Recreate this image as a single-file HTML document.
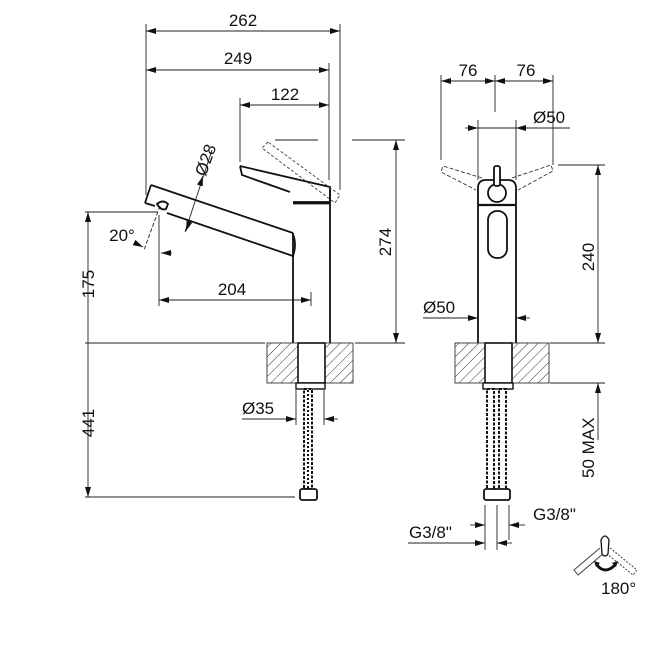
<!DOCTYPE html>
<html><head><meta charset="utf-8"><style>
html,body{margin:0;padding:0;background:#fff}
svg{display:block}
text{font-family:"Liberation Sans",Arial,sans-serif;font-size:17px;fill:#111}
</style></head><body>
<svg width="651" height="651" viewBox="0 0 651 651" xmlns="http://www.w3.org/2000/svg">
<defs>
<marker id="a" viewBox="0 0 10 6" refX="10" refY="3" markerWidth="10" markerHeight="6" orient="auto-start-reverse" markerUnits="userSpaceOnUse"><path d="M0,0L10,3L0,6z" fill="#111"/></marker>
<pattern id="h" width="7" height="7" patternUnits="userSpaceOnUse" patternTransform="rotate(45)"><line x1="0" y1="0" x2="0" y2="7" stroke="#333" stroke-width="1"/></pattern>
</defs>
<g stroke="#222" stroke-width="0.9" fill="none">
<line x1="146" y1="24" x2="146" y2="195"/>
<line x1="340" y1="24" x2="340" y2="190"/>
<line x1="329" y1="63" x2="329" y2="180"/>
<line x1="240" y1="98" x2="240" y2="162"/>
<line x1="85" y1="212" x2="158" y2="212"/>
<line x1="159" y1="215" x2="159" y2="306"/>
<line x1="311" y1="292" x2="311" y2="306"/>
<line x1="85" y1="343" x2="265" y2="343"/>
<line x1="355" y1="343" x2="405" y2="343"/>
<line x1="352" y1="140" x2="405" y2="140"/>
<line x1="275" y1="140" x2="318" y2="140"/>
<line x1="85" y1="497" x2="295" y2="497"/>
<line x1="296" y1="390" x2="296" y2="425"/>
<line x1="324" y1="390" x2="324" y2="425"/>
<line x1="146" y1="31" x2="340" y2="31" marker-start="url(#a)" marker-end="url(#a)"/>
<line x1="146" y1="70" x2="329" y2="70" marker-start="url(#a)" marker-end="url(#a)"/>
<line x1="240" y1="105" x2="329" y2="105" marker-start="url(#a)" marker-end="url(#a)"/>
<line x1="159" y1="300" x2="311" y2="300" marker-start="url(#a)" marker-end="url(#a)"/>
<line x1="396" y1="140" x2="396" y2="343" marker-start="url(#a)" marker-end="url(#a)"/>
<line x1="88" y1="212" x2="88" y2="343" marker-start="url(#a)"/>
<line x1="88" y1="343" x2="88" y2="497" marker-end="url(#a)"/>
<line x1="242" y1="419" x2="296" y2="419" marker-end="url(#a)"/>
<line x1="338" y1="419" x2="324" y2="419" marker-end="url(#a)"/>
<line x1="212" y1="150" x2="185" y2="232"/>
<line x1="200" y1="185" x2="203" y2="176" marker-end="url(#a)"/>
<line x1="190" y1="220" x2="186" y2="231" marker-end="url(#a)"/>
<line x1="160" y1="206" x2="144" y2="250" stroke-dasharray="4,2"/>
<line x1="135" y1="243" x2="143" y2="247" marker-end="url(#a)"/>
<line x1="172" y1="253" x2="161" y2="253" marker-end="url(#a)"/>
</g>
<g stroke="#111" stroke-width="1.8" fill="none">
<path d="M151,185 L293,233 M145,203 L151,185 M145,203 L155,206 M167,213 L293,256 Q297,245 293,234"/>
<path d="M157,204 q6,-5 11,0 l-2,5 q-5,2 -9,-5z"/>
<path d="M293,233 L293,343 M330,188 L330,343"/>
<path d="M240,166 L330,187 L330,202 L293,202 M240,166 L242,175 L290,192"/>
<line x1="293" y1="203" x2="330" y2="203" stroke-width="2.8"/>
</g>
<path d="M268,142 L262,148 L335,203 L340,195z" stroke="#444" stroke-width="0.9" fill="none" stroke-dasharray="3,2"/>
<rect x="267" y="343" width="86" height="40" fill="url(#h)" stroke="#333" stroke-width="0.9"/>
<rect x="298" y="343" width="27" height="40" fill="#fff" stroke="#111" stroke-width="1.6"/>
<rect x="296" y="383" width="29" height="6" fill="#fff" stroke="#111" stroke-width="1.4"/>
<rect x="304" y="389" width="8" height="100" fill="#fff" stroke="#111" stroke-width="2" stroke-dasharray="3,1.5"/>
<line x1="308" y1="390" x2="308" y2="489" stroke="#111" stroke-width="2" stroke-dasharray="2,2"/>
<rect x="300" y="489" width="17" height="11" rx="2" fill="#fff" stroke="#111" stroke-width="1.8"/>
<g stroke="#222" stroke-width="0.9" fill="none">
<line x1="441" y1="75" x2="441" y2="160"/>
<line x1="495" y1="75" x2="495" y2="112"/>
<line x1="553" y1="75" x2="553" y2="165"/>
<line x1="478" y1="120" x2="478" y2="180"/>
<line x1="516" y1="120" x2="516" y2="180"/>
<line x1="441" y1="81" x2="495" y2="81" marker-start="url(#a)" marker-end="url(#a)"/>
<line x1="495" y1="81" x2="553" y2="81" marker-start="url(#a)" marker-end="url(#a)"/>
<line x1="465" y1="128" x2="478" y2="128" marker-end="url(#a)"/>
<line x1="478" y1="128" x2="516" y2="128"/>
<line x1="570" y1="128" x2="516" y2="128" marker-end="url(#a)"/>
<line x1="558" y1="165" x2="605" y2="165"/>
<line x1="550" y1="343" x2="605" y2="343"/>
<line x1="550" y1="383" x2="605" y2="383"/>
<line x1="598" y1="165" x2="598" y2="343" marker-start="url(#a)" marker-end="url(#a)"/>
<line x1="598" y1="440" x2="598" y2="383" marker-end="url(#a)"/>
<line x1="423" y1="318" x2="478" y2="318" marker-end="url(#a)"/>
<line x1="530" y1="318" x2="516" y2="318" marker-end="url(#a)"/>
<line x1="485" y1="505" x2="485" y2="550"/>
<line x1="497" y1="505" x2="497" y2="550"/>
<line x1="509" y1="505" x2="509" y2="540"/>
<line x1="470" y1="525" x2="485" y2="525" marker-end="url(#a)"/>
<line x1="525" y1="525" x2="509" y2="525" marker-end="url(#a)"/>
<line x1="408" y1="543" x2="485" y2="543" marker-end="url(#a)"/>
<line x1="512" y1="543" x2="497" y2="543" marker-end="url(#a)"/>
</g>
<g stroke="#333" stroke-width="0.9" fill="none" stroke-dasharray="4,2">
<path d="M482,178 L443,166 L441,172 L476,190"/>
<path d="M512,178 L551,165 L553,171 L518,190"/>
</g>
<g stroke="#111" stroke-width="1.8" fill="none">
<path d="M478,343 L478,188 Q478,180 486,180 L508,180 Q516,180 516,188 L516,343"/>
<line x1="478" y1="205" x2="516" y2="205" stroke-width="2.2"/>
<circle cx="497" cy="193" r="9" fill="#fff"/>
<rect x="494" y="166" width="6" height="20" rx="2" fill="#fff"/>
<rect x="488" y="211" width="19" height="47" rx="9"/>
</g>
<rect x="455" y="343" width="94" height="40" fill="url(#h)" stroke="#333" stroke-width="0.9"/>
<rect x="485" y="343" width="27" height="40" fill="#fff" stroke="#111" stroke-width="1.6"/>
<rect x="483" y="383" width="30" height="6" fill="#fff" stroke="#111" stroke-width="1.4"/>
<rect x="487" y="389" width="7" height="101" fill="#fff" stroke="#111" stroke-width="2" stroke-dasharray="3,1.5"/>
<rect x="499" y="389" width="7" height="101" fill="#fff" stroke="#111" stroke-width="2" stroke-dasharray="3,1.5"/>
<rect x="484" y="489" width="26" height="11" rx="2" fill="#fff" stroke="#111" stroke-width="1.8"/>
<g stroke="#444" stroke-width="1" fill="none">
<path d="M600,548 L574,570 L578,575 L604,553"/>
<path d="M610,548 L637,570 L633,575 L606,553" stroke-dasharray="2,1.5"/>
<path d="M601,540 q4,-8 8,0 l-1,14 q-3,4 -6,0z" fill="#fff" stroke="#111" stroke-width="1.3"/>
<path d="M597,565 q8,10 18,0" stroke="#111" stroke-width="3"/>
</g>
<path d="M594,561 l6,2 -4,4z M618,561 l-6,2 4,4z" fill="#111"/>
<text x="243" y="26" text-anchor="middle">262</text>
<text x="238" y="64" text-anchor="middle">249</text>
<text x="285" y="100" text-anchor="middle">122</text>
<text x="232" y="295" text-anchor="middle">204</text>
<text x="122" y="241" text-anchor="middle">20°</text>
<text transform="translate(211,162) rotate(-70)" text-anchor="middle">Ø28</text>
<text transform="translate(391,242) rotate(-90)" text-anchor="middle">274</text>
<text transform="translate(94,284) rotate(-90)" text-anchor="middle">175</text>
<text transform="translate(94,423) rotate(-90)" text-anchor="middle">441</text>
<text x="242" y="414">Ø35</text>
<text x="468" y="76" text-anchor="middle">76</text>
<text x="526" y="76" text-anchor="middle">76</text>
<text x="533" y="123">Ø50</text>
<text x="423" y="313">Ø50</text>
<text transform="translate(594,257) rotate(-90)" text-anchor="middle">240</text>
<text transform="translate(594,478) rotate(-90)">50 MAX</text>
<text x="533" y="520">G3/8"</text>
<text x="409" y="538">G3/8"</text>
<text x="601" y="594" font-size="15">180°</text>
</svg>
</body></html>
